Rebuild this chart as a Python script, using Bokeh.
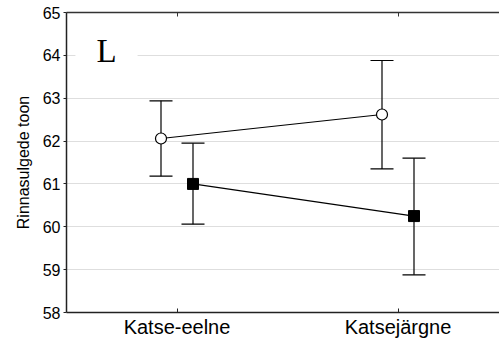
from bokeh.plotting import figure
from bokeh.models import (Range1d, FixedTicker, LinearAxis, Whisker, TeeHead,
                          ColumnDataSource, Label)
from bokeh.transform import dodge
from bokeh.embed import file_html
from bokeh.resources import INLINE

# ---- data ----
categories = ["Katse-eelne", "Katsejärgne"]
positions = [1, 2]
open_mean = [62.06, 62.62]
open_upper = [62.94, 63.88]
open_lower = [61.18, 61.35]
filled_mean = [61.00, 60.25]
filled_upper = [61.95, 61.60]
filled_lower = [60.06, 58.88]
y_ticks = [58, 59, 60, 61, 62, 63, 64, 65]
panel_letter = "L"
y_title = "Rinnasulgede toon"

OFF = 16 / 221.0

p = figure(width=499, height=340, output_backend="svg", toolbar_location=None,
           x_range=Range1d(0.5, 0.5 + 433 / 221.0), y_range=Range1d(58, 65),
           min_border_left=66, min_border_right=0, min_border_top=12,
           min_border_bottom=28, background_fill_color="white",
           border_fill_color="white")
p.outline_line_color = None

# axes
p.xaxis.ticker = FixedTicker(ticks=positions)
p.xaxis.major_label_overrides = {pos: c for pos, c in zip(positions, categories)}
p.xaxis.major_tick_in = 4
p.xaxis.major_tick_out = 0
p.xaxis.minor_tick_line_color = None
p.xaxis.major_label_text_font = "Liberation Sans"
p.xaxis.major_label_text_font_size = "20px"
p.xaxis.major_label_text_color = "black"
p.xaxis.major_label_standoff = 3
p.xaxis.axis_line_color = "#222222"
p.xaxis.axis_line_width = 1.5
p.xaxis.major_tick_line_color = "#222222"

p.yaxis.ticker = FixedTicker(ticks=y_ticks)
p.yaxis.major_tick_in = 0
p.yaxis.major_tick_out = 3
p.yaxis.minor_tick_line_color = None
p.yaxis.major_label_text_font = "Liberation Sans"
p.yaxis.major_label_text_font_size = "16px"
p.yaxis.major_label_text_color = "black"
p.yaxis.major_label_standoff = 3
p.yaxis.axis_line_color = "#222222"
p.yaxis.axis_line_width = 1.5
p.yaxis.major_tick_line_color = "#222222"
p.yaxis.axis_label = y_title
p.yaxis.axis_label_text_font = "Liberation Sans"
p.yaxis.axis_label_text_font_size = "16px"
p.yaxis.axis_label_text_font_style = "normal"
p.yaxis.axis_label_text_color = "black"
p.yaxis.axis_label_standoff = 8

top = LinearAxis(ticker=FixedTicker(ticks=positions))
top.major_label_overrides = {pos: "" for pos in positions}
top.major_label_standoff = 0
top.major_tick_in = 4
top.major_tick_out = 0
top.minor_tick_line_color = None
top.axis_line_color = "#333333"
top.axis_line_width = 1.5
top.major_tick_line_color = "#333333"
p.add_layout(top, "above")

p.xgrid.grid_line_color = None
p.ygrid.ticker = FixedTicker(ticks=y_ticks[1:-1])
p.ygrid.grid_line_color = "#bdbdbd"
p.ygrid.grid_line_dash = "1 1"
p.ygrid.grid_line_width = 1

src_open = ColumnDataSource(dict(x=positions, m=open_mean, up=open_upper, lo=open_lower))
src_fill = ColumnDataSource(dict(x=positions, m=filled_mean, up=filled_upper, lo=filled_lower))

for src, off in ((src_open, -OFF), (src_fill, OFF)):
    w = Whisker(source=src, base=dodge("x", off), upper="up", lower="lo",
                line_color="black", line_width=1.2,
                upper_head=TeeHead(size=23, line_color="black", line_width=1.2),
                lower_head=TeeHead(size=23, line_color="black", line_width=1.2))
    p.add_layout(w)

p.line(x=dodge("x", -OFF), y="m", source=src_open, line_color="black", line_width=1.2)
p.line(x=dodge("x", OFF), y="m", source=src_fill, line_color="black", line_width=1.2)
p.scatter(x=dodge("x", -OFF), y="m", source=src_open, marker="circle", size=11,
          fill_color="white", line_color="black", line_width=1.2)
p.scatter(x=dodge("x", OFF), y="m", source=src_fill, marker="square", size=11,
          fill_color="black", line_color="black", line_width=1)

lab = Label(x=0.5 + 40 / 221.0, y=64.1, text=panel_letter, text_font="Liberation Serif",
            text_font_size="33px", text_align="center", text_baseline="alphabetic",
            text_color="black", background_fill_color="white",
            padding=dict(left=21, right=21, top=0, bottom=0))
p.add_layout(lab)

open("out.html", "w").write(file_html(p, INLINE))
